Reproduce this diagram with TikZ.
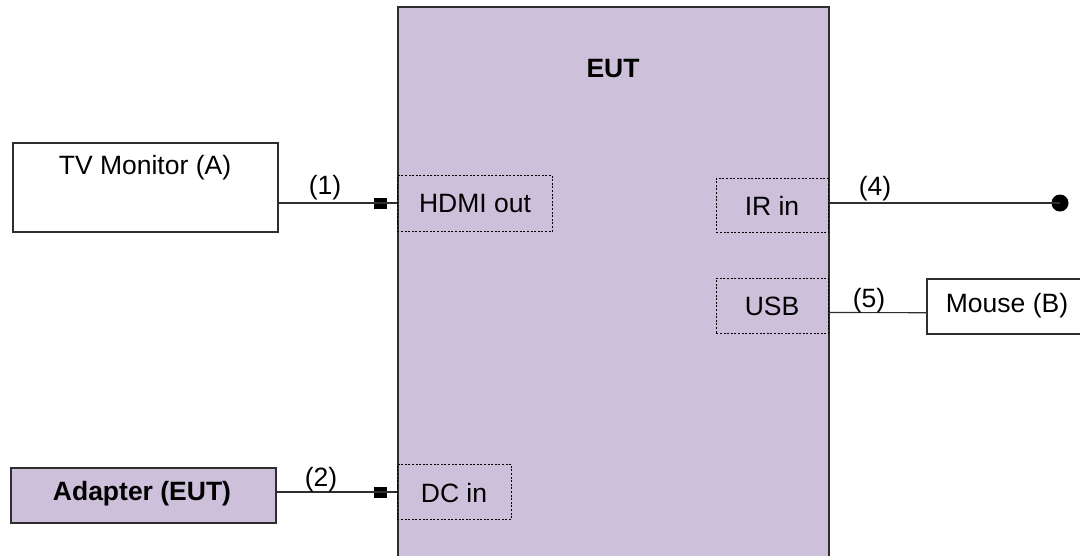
\documentclass[tikz,border=0pt]{standalone}
\usepackage{fontspec}
\setmainfont{Liberation Sans}
\definecolor{eutfill}{HTML}{CCC0DA}
\definecolor{edge}{HTML}{2E2E2E}
\begin{document}
\begin{tikzpicture}[x=1pt,y=-1pt,
  box/.style={draw=edge,line width=1.5pt,rectangle,inner sep=0pt,anchor=north west},
  port/.style={draw=black,line width=0.9pt,dash pattern=on 2pt off 1.6pt,rectangle,inner sep=0pt,anchor=north west},
  wire/.style={draw=edge,line width=1.1pt},
  lbl/.style={font=\fontsize{26.5}{31}\selectfont,inner sep=0pt},
  blbl/.style={font=\fontsize{26.5}{31}\selectfont\bfseries,inner sep=0pt},
  plug/.style={fill=black,rectangle,minimum width=13pt,minimum height=11pt,inner sep=0pt},
  blob/.style={fill=black,circle,minimum size=17pt,inner sep=0pt}]
\useasboundingbox (0,0) rectangle (1080,555);
% EUT
\node[box,fill=eutfill,minimum width=431pt,minimum height=560pt] (eut) at (397,6) {};
\node[blbl] (eutlbl) at (613,69) {EUT};
% ports
\node[port,minimum width=155pt,minimum height=56pt] (hdmi) at (397,175) {};
\node[lbl] (hdmilbl) at (475,204) {HDMI out};
\node[port,minimum width=114pt,minimum height=55pt] (dc) at (397,464) {};
\node[lbl] (dclbl) at (454,493) {DC in};
\node[port,minimum width=112pt,minimum height=54pt] (ir) at (716,178) {};
\node[lbl] (irlbl) at (772,206) {IR in};
\node[port,minimum width=112pt,minimum height=55pt] (usb) at (716,278) {};
\node[lbl] (usblbl) at (772,306) {USB};
% peripherals
\node[box,fill=white,minimum width=265pt,minimum height=89pt] (tv) at (12,142) {};
\node[lbl] (tvlbl) at (145,168) {TV Monitor (A)};
\node[box,fill=eutfill,minimum width=265pt,minimum height=55pt] (adp) at (10,467) {};
\node[blbl] (adplbl) at (142,494) {Adapter (EUT)};
\node[box,fill=white,minimum width=160pt,minimum height=55pt] (mouse) at (926,278) {};
\node[lbl] (mouselbl) at (1007,306) {Mouse (B)};
% plugs and end points
\node[plug] (p1) at (380,203) {};
\node[plug] (p2) at (380,492) {};
\node[blob] (dot) at (1060,203) {};
% connectors
\draw[wire] (tv.east |- p1) -- (p1.center) -- (eut.west |- p1);
\draw[wire] (adp.east |- p2) -- (p2.center) -- (eut.west |- p2);
\draw[wire] (eut.east |- dot) -- (dot.center);
\draw[wire] ([yshift=-6.5pt]usb.east) -- ([yshift=-6.5pt]mouse.west);
% labels
\node[lbl] (l1) at (325,188) {(1)};
\node[lbl] (l2) at (321,480) {(2)};
\node[lbl] (l4) at (875,189) {(4)};
\node[lbl] (l5) at (869,301) {(5)};
\end{tikzpicture}
\end{document}
